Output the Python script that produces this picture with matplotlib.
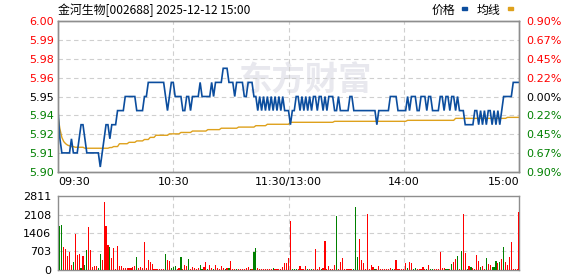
import numpy as np
import matplotlib
matplotlib.use("Agg")
import matplotlib.pyplot as plt
from matplotlib.patches import Rectangle

TITLE = "金河生物[002688] 2025-12-12 15:00"
LEGEND_NAMES = ["价格", "均线"]
WATERMARK = "东方财富"
PREV_CLOSE = 5.95
PCT_RANGE = 0.009
TIME_TICKS = [0, 60, 120, 180, 240]
TIME_LABELS = ["09:30", "10:30", "11:30/13:00", "14:00", "15:00"]
PRICE_LABELS = ["6.00", "5.99", "5.98", "5.96", "5.95", "5.94", "5.92", "5.91", "5.90"]
PCT_LABELS = ["0.90%", "0.67%", "0.45%", "0.22%", "0.00%", "0.22%", "0.45%", "0.67%", "0.90%"]
VOL_TICKS = [0, 703, 1406, 2108, 2811]

# minute close price, 09:30 .. 15:00 (241 points)
price = [
    5.94, 5.92, 5.91, 5.91, 5.91, 5.91, 5.91, 5.92, 5.91, 5.91,
    5.91, 5.92, 5.93, 5.93, 5.92, 5.91, 5.91, 5.91, 5.91, 5.91,
    5.91, 5.91, 5.90, 5.91, 5.92, 5.93, 5.93, 5.92, 5.93, 5.93,
    5.93, 5.94, 5.94, 5.94, 5.94, 5.95, 5.95, 5.95, 5.95, 5.95,
    5.95, 5.94, 5.94, 5.94, 5.94, 5.95, 5.95, 5.96, 5.96, 5.96,
    5.96, 5.96, 5.96, 5.96, 5.96, 5.96, 5.95, 5.94, 5.95, 5.96,
    5.96, 5.95, 5.95, 5.95, 5.95, 5.94, 5.94, 5.95, 5.95, 5.94,
    5.95, 5.95, 5.95, 5.95, 5.96, 5.95, 5.95, 5.95, 5.95, 5.95,
    5.96, 5.95, 5.96, 5.96, 5.96, 5.96, 5.97, 5.97, 5.97, 5.96,
    5.96, 5.96, 5.95, 5.96, 5.96, 5.96, 5.96, 5.95, 5.95, 5.96,
    5.96, 5.96, 5.95, 5.95, 5.94, 5.95, 5.94, 5.95, 5.94, 5.95,
    5.94, 5.95, 5.94, 5.95, 5.94, 5.95, 5.94, 5.95, 5.94, 5.94,
    5.94, 5.93, 5.94, 5.94, 5.95, 5.95, 5.94, 5.95, 5.94, 5.95,
    5.94, 5.95, 5.94, 5.95, 5.95, 5.94, 5.95, 5.95, 5.94, 5.95,
    5.94, 5.95, 5.95, 5.95, 5.94, 5.94, 5.95, 5.94, 5.94, 5.94,
    5.94, 5.94, 5.95, 5.95, 5.94, 5.94, 5.94, 5.94, 5.94, 5.94,
    5.94, 5.94, 5.94, 5.94, 5.94, 5.94, 5.93, 5.94, 5.94, 5.94,
    5.94, 5.94, 5.94, 5.95, 5.95, 5.95, 5.95, 5.94, 5.94, 5.94,
    5.94, 5.94, 5.95, 5.94, 5.95, 5.95, 5.95, 5.94, 5.94, 5.95,
    5.95, 5.95, 5.94, 5.95, 5.95, 5.94, 5.94, 5.94, 5.94, 5.95,
    5.95, 5.94, 5.95, 5.95, 5.94, 5.95, 5.95, 5.94, 5.95, 5.94,
    5.94, 5.94, 5.93, 5.93, 5.93, 5.93, 5.93, 5.94, 5.94, 5.93,
    5.94, 5.93, 5.94, 5.93, 5.94, 5.94, 5.93, 5.94, 5.93, 5.94,
    5.93, 5.94, 5.95, 5.95, 5.95, 5.95, 5.95, 5.96, 5.96, 5.96,
    5.96,
]

# average price line (241 points)
avg = [
    5.936, 5.927, 5.921, 5.918, 5.9165, 5.9155, 5.915, 5.9145, 5.9145, 5.914,
    5.914, 5.914, 5.914, 5.914, 5.9133, 5.9133, 5.9133, 5.9133, 5.9133, 5.9133,
    5.9133, 5.9133, 5.9133, 5.9133, 5.9133, 5.9133, 5.9133, 5.9138, 5.9138, 5.9145,
    5.9145, 5.9145, 5.9165, 5.9165, 5.9165, 5.9165, 5.9165, 5.9175, 5.9175, 5.9175,
    5.9175, 5.9185, 5.9185, 5.9185, 5.9185, 5.9195, 5.9195, 5.9195, 5.921, 5.921,
    5.921, 5.9225, 5.9225, 5.9225, 5.9225, 5.9225, 5.9225, 5.9225, 5.9235, 5.9235,
    5.9235, 5.9235, 5.9235, 5.9235, 5.9245, 5.9245, 5.9245, 5.9245, 5.9245, 5.9245,
    5.9255, 5.9255, 5.9255, 5.9255, 5.9255, 5.9255, 5.9255, 5.9255, 5.9265, 5.9265,
    5.9265, 5.9265, 5.9265, 5.9265, 5.9265, 5.9275, 5.9275, 5.9275, 5.9275, 5.9275,
    5.9275, 5.9275, 5.9275, 5.9275, 5.9283, 5.9283, 5.9283, 5.9283, 5.9283, 5.9283,
    5.9283, 5.9283, 5.9283, 5.9293, 5.9293, 5.9293, 5.9293, 5.9293, 5.9293, 5.9303,
    5.9303, 5.9303, 5.9303, 5.9303, 5.9303, 5.9303, 5.9303, 5.9303, 5.9303, 5.9303,
    5.9303, 5.9317, 5.9317, 5.9317, 5.9317, 5.9317, 5.9317, 5.9317, 5.9317, 5.9317,
    5.9317, 5.9317, 5.9317, 5.9317, 5.9317, 5.9317, 5.9317, 5.9317, 5.9317, 5.9317,
    5.9317, 5.9317, 5.9317, 5.9317, 5.9324, 5.9324, 5.9324, 5.9324, 5.9324, 5.9324,
    5.9324, 5.9324, 5.9324, 5.9324, 5.9324, 5.9324, 5.9324, 5.9324, 5.9324, 5.9324,
    5.9324, 5.9324, 5.9324, 5.9324, 5.9324, 5.9324, 5.9324, 5.9324, 5.9324, 5.9324,
    5.9324, 5.9324, 5.9324, 5.9324, 5.9324, 5.9324, 5.9324, 5.9324, 5.9324, 5.9324,
    5.9324, 5.9324, 5.9331, 5.9331, 5.9331, 5.9331, 5.9331, 5.9331, 5.9331, 5.9331,
    5.9331, 5.9331, 5.9331, 5.9331, 5.9331, 5.9331, 5.9331, 5.9331, 5.9331, 5.9331,
    5.9331, 5.9331, 5.9331, 5.9331, 5.9331, 5.9331, 5.9331, 5.9345, 5.9345, 5.9345,
    5.9345, 5.9345, 5.9345, 5.9345, 5.9345, 5.9345, 5.9345, 5.9345, 5.9345, 5.9345,
    5.9345, 5.9345, 5.9345, 5.9345, 5.9345, 5.9345, 5.9345, 5.9345, 5.9345, 5.9345,
    5.9345, 5.9345, 5.9345, 5.9345, 5.9352, 5.9352, 5.9352, 5.9352, 5.9352, 5.9352,
    5.9352,
]

# minute volume, 09:31 .. 15:00 (240 bars)
volume = [
    1684, 1720, 886, 810, 544, 696, 203, 316, 1380, 582,
    620, 76, 544, 203, 772, 1646, 772, 101, 139, 165,
    76, 620, 392, 2595, 1684, 962, 886, 468, 848, 50,
    924, 139, 165, 76, 76, 60, 76, 76, 101, 165,
    506, 76, 126, 76, 1076, 60, 392, 316, 240, 50,
    50, 50, 50, 50, 50, 620, 392, 354, 76, 126,
    165, 50, 76, 506, 50, 203, 139, 430, 50, 126,
    76, 50, 76, 203, 50, 126, 316, 50, 203, 76,
    50, 203, 76, 50, 165, 76, 50, 76, 76, 354,
    50, 50, 50, 50, 50, 50, 50, 76, 126, 50,
    50, 696, 848, 76, 50, 50, 50, 50, 50, 50,
    50, 76, 50, 50, 50, 50, 126, 278, 278, 468,
    1874, 50, 50, 50, 50, 165, 50, 50, 165, 50,
    50, 50, 50, 810, 50, 126, 50, 76, 1114, 50,
    165, 50, 50, 203, 2064, 50, 316, 468, 50, 50,
    50, 50, 50, 50, 2405, 506, 1190, 392, 278, 50,
    2140, 50, 203, 126, 50, 50, 165, 50, 50, 50,
    50, 50, 76, 50, 50, 392, 50, 50, 50, 50,
    278, 76, 316, 278, 50, 76, 50, 50, 50, 126,
    50, 50, 203, 50, 50, 50, 50, 50, 696, 76,
    76, 50, 50, 50, 240, 316, 430, 544, 50, 734,
    2140, 658, 50, 165, 126, 76, 50, 582, 354, 126,
    165, 50, 468, 240, 203, 126, 126, 354, 278, 316,
    430, 886, 316, 203, 506, 1076, 40, 40, 40, 2215,
]
# bar colour per minute: r = up, g = down
vol_dir = (
    "ggrrrrrgrr" "rgrggrrrrr" "ggrrrrgrrr" "rrrrrrrrrr"
    "grrrrrrrrr" "rrrrrgrrgg" "grrgrrrgrr" "rrrggrrgrr"
    "grrrrrgrgr" "rrgrrrrrrg" "rggrrrrrrr" "rgrrrrrrrr"
    "rgggrrrrrg" "rgrrrrgrrr" "rrrrgrrrrr" "rrrgggrrrr"
    "rrrrgrrrrr" "rrrgrrrrrr" "rgrrggrrrr" "rgrggrrrrr"
    "rggrgrrgrg" "rrgrgrrrrg" "rrgrrgggrg" "rgrrrrrrrr"
)

W, H = 578, 276
fig = plt.figure(figsize=(W / 100, H / 100), dpi=100)
fig.patch.set_facecolor("white")

def fx(px):
    return px / W

def fy(py):
    return 1 - py / H

NUM_FONT = "DejaVu Sans"
CJK = ["Noto Sans CJK SC", "DejaVu Sans"]
FS = 8
RED = "#ff0000"
GREEN = "#008000"
GRID = "#cfcfcf"
BORDER = "#8e8e8e"
BLUE = "#0b4d9e"
ORANGE = "#dea11c"

L, R = 58, 519
ax = fig.add_axes([fx(L), fy(172), fx(R) - fx(L), fy(21) - fy(172)])
axv = fig.add_axes([fx(L), fy(270), fx(R) - fx(L), fy(196) - fy(270)])

n = len(price)
xs = np.arange(n)
half = PREV_CLOSE * PCT_RANGE
ax.set_xlim(0, n - 1)
ax.set_ylim(PREV_CLOSE - half, PREV_CLOSE + half)
ptick = [PREV_CLOSE + half * k / 4 for k in range(4, -5, -1)]

# watermark
ax.text(0.39, 0.60, WATERMARK, transform=ax.transAxes, fontsize=24,
        fontweight="bold", color="#e8e8ee", family=CJK, ha="left", va="center", zorder=0)

for y in ptick[1:-1]:
    ax.axhline(y, color=GRID, lw=0.8, ls=(0, (4, 3)), zorder=1)
for t in TIME_TICKS[1:-1]:
    ax.axvline(t, color=GRID, lw=0.8, ls=(0, (4, 3)), zorder=1)

ax.plot(xs, avg, color=ORANGE, lw=1.0, zorder=3)
ax.plot(xs, price, color=BLUE, lw=1.2, zorder=4, solid_joinstyle="miter")

ax.set_yticks(ptick)
ax.set_yticklabels(PRICE_LABELS)
ax.tick_params(axis="y", length=0, pad=3, labelsize=FS)
ax.set_xticks([])
colors = [RED if k > 0 else ("black" if k == 0 else GREEN) for k in range(4, -5, -1)]
for lab, c in zip(ax.get_yticklabels(), colors):
    lab.set_color(c)
    lab.set_family(NUM_FONT)

axr = ax.twinx()
axr.set_ylim(ax.get_ylim())
axr.set_yticks(ptick)
axr.set_yticklabels(PCT_LABELS)
axr.tick_params(axis="y", length=0, pad=5, labelsize=FS)
for lab, c in zip(axr.get_yticklabels(), colors):
    lab.set_color(c)
    lab.set_family(NUM_FONT)

for a in (ax, axr, axv):
    for s in a.spines.values():
        s.set_color(BORDER)
        s.set_linewidth(1.0)

# time labels
for t, lab in zip(TIME_TICKS, TIME_LABELS):
    ha = "left" if t == TIME_TICKS[0] else ("right" if t == TIME_TICKS[-1] else "center")
    ax.text(t, -0.035, lab, transform=ax.get_xaxis_transform(), ha=ha, va="top",
            fontsize=FS, family=NUM_FONT, color="black")

# volume
vx = np.arange(1, len(volume) + 1)
vcol = [RED if d == "r" else GREEN for d in vol_dir]
axv.set_xlim(0, n - 1)
axv.set_ylim(0, VOL_TICKS[-1])
for y in VOL_TICKS[1:-1]:
    axv.axhline(y, color=GRID, lw=0.8, ls=(0, (4, 3)), zorder=1)
for t in TIME_TICKS[1:-1]:
    axv.axvline(t, color=GRID, lw=0.8, ls=(0, (4, 3)), zorder=1)
axv.bar(vx, volume, width=0.6, color=vcol, linewidth=0, zorder=3, antialiased=False)
axv.set_yticks(VOL_TICKS)
axv.set_yticklabels([str(v) for v in VOL_TICKS])
axv.tick_params(axis="y", length=0, pad=5, labelsize=FS)
for lab in axv.get_yticklabels():
    lab.set_family(NUM_FONT)
axv.set_xticks([])

# title and legend
fig.text(fx(58), fy(10), TITLE, fontsize=8.6, family=CJK, ha="left", va="center", color="black")
fig.text(fx(432), fy(10), LEGEND_NAMES[0], fontsize=8.6, family=CJK, ha="left", va="center")
fig.text(fx(477), fy(10), LEGEND_NAMES[1], fontsize=8.6, family=CJK, ha="left", va="center")
fig.patches.append(Rectangle((fx(462), fy(10)), fx(5), 3 / H, transform=fig.transFigure,
                             color=BLUE, figure=fig))
fig.patches.append(Rectangle((fx(508), fy(10)), fx(5), 3 / H, transform=fig.transFigure,
                             color=ORANGE, figure=fig))

fig.savefig("out.png", dpi=100, facecolor="white")
